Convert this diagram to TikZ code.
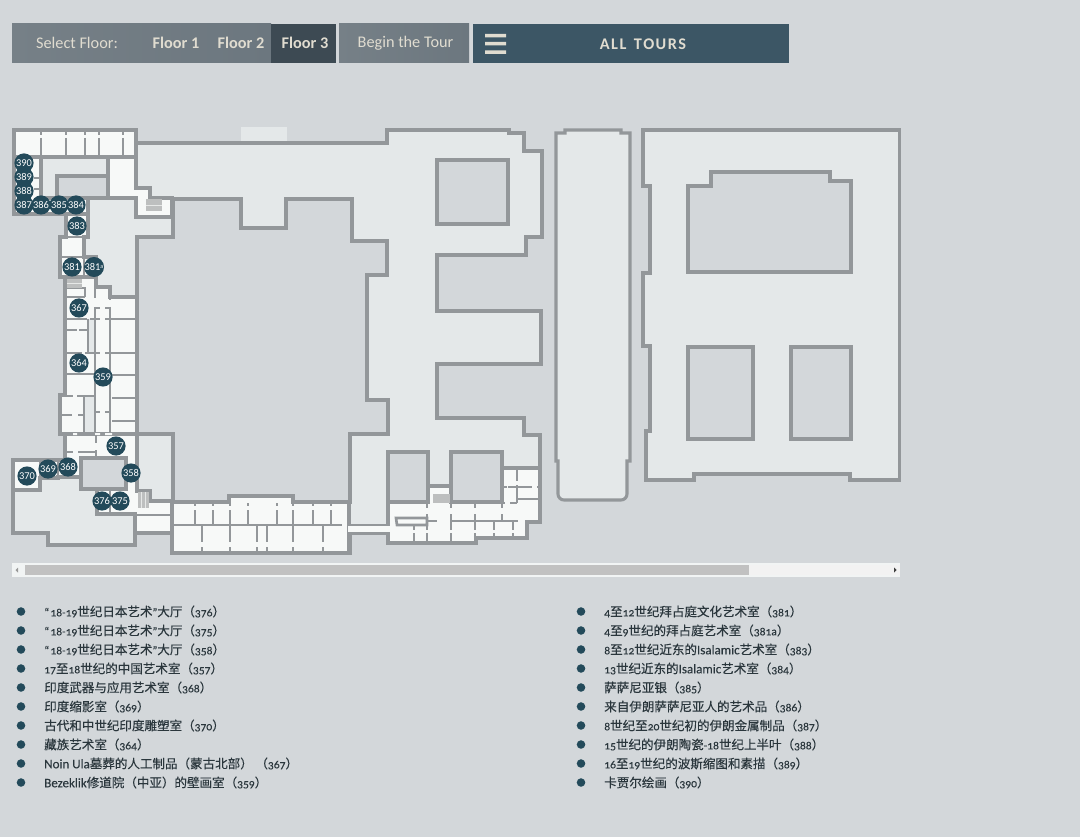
\documentclass[tikz,border=0pt]{standalone}
\usepackage{fontspec}
\setmainfont[FakeBold=0.3]{Noto Sans CJK SC}
\newfontfamily\lat[Numbers=OldStyle,FakeBold=0.15,Scale=0.92]{Carlito}
\newfontfamily\hdr{Carlito}
\definecolor{bgc}{HTML}{D3D7DA}
\definecolor{lightc}{HTML}{E4E8E9}
\definecolor{whitec}{HTML}{F7F9F8}
\definecolor{wallc}{HTML}{93979A}
\definecolor{dotc}{HTML}{234A5A}
\definecolor{barc}{HTML}{6C777F}
\definecolor{barl}{HTML}{768087}
\definecolor{darkc}{HTML}{3D4A53}
\definecolor{tealc}{HTML}{3C5665}
\definecolor{txtc}{HTML}{E0DCD0}
\definecolor{stairc}{HTML}{BDBFBF}
\definecolor{listc}{HTML}{2A363C}
\newcommand{\nm}[1]{{\lat #1}}
\newcommand{\nw}[1]{{\lat\fontsize{10.6}{11}\selectfont #1}}
\tikzset{
  wall/.style={draw=wallc,line width=2.8pt,line join=miter},
  lightroom/.style={wall,fill=lightc},
  hole/.style={wall,fill=bgc},
  whiteroom/.style={wall,fill=whitec,line width=2.4pt},
  iw/.style={draw=wallc,line width=2pt},
  stairline/.style={draw=whitec!70!stairc,line width=.7pt},
  room/.style={circle,fill=dotc,text=white,inner sep=0pt,minimum size=14.4pt,font=\hdr\fontsize{7.8}{8}\selectfont},
  bullet/.style={circle,fill=dotc,inner sep=0pt,minimum size=6.4pt},
  lab/.style={anchor=west,inner sep=0pt,text=listc,font=\fontsize{9.4}{11}\selectfont},
  barbtn/.style={text=txtc,inner sep=0pt,font=\hdr\fontsize{12.2}{14}\selectfont},
  barbold/.style={text=txtc,inner sep=0pt,font=\hdr\bfseries\fontsize{12.2}{14}\selectfont},
}
\begin{document}
\begin{tikzpicture}[x=0.75pt,y=-0.75pt]
\useasboundingbox (0,0) rectangle (1080,837);
\fill[bgc] (0,0) rectangle (1080,837);
% top bar
\shade[left color=barl,right color=barc] (12,24) rectangle (271,63);
\fill[darkc] (271,24) rectangle (336,63);
\shade[left color=barl,right color=barc] (339,24) rectangle (469,63);
\fill[tealc] (473,24) rectangle (789,63);
\fill[txtc] (485,34) rectangle (506,37.5) (485,42) rectangle (506,45.5) (485,50.5) rectangle (506,54);
\node[barbtn] (sel) at (77,43) {Select Floor:};
\node[barbold] (f1) at (176,43) {Floor 1};
\node[barbold] (f2) at (241,43) {Floor 2};
\node[barbold] (f3) at (305,43) {Floor 3};
\node[barbtn] (beg) at (405.5,43) {Begin the Tour};
\node[barbold] (all) at (643,44.5) {A\kern1.1pt L\kern1.1pt L\hspace{5.5pt}T\kern1.1pt O\kern1.1pt U\kern1.1pt R\kern1.1pt S};
% pale patch on the roof line
\fill[lightc] (241,127) rectangle (287,141.5);
% main left building
\draw[lightroom] (14,130)--(136,130)--(136,143)--(387,143)--(387,130)--(509,130)--(509,133)--(524,133)--(524,151)--(542,151)--(542,237)--(526,237)--(526,255)--(437,255)--(437,311)--(541,311)--(541,364)--(437,364)--(437,418)--(524,418)--(524,435)--(540,435)--(540,522)--(527,522)--(527,538)--(476,538)--(476,543)--(388,543)--(388,533)--(350,533)--(350,553)--(172,553)--(172,533)--(135,533)--(135,545)--(48,545)--(48,533)--(13,533)--(13,460)--(65,460)--(65,434)--(60,434)--(60,395)--(65,395)--(65,277)--(60,277)--(60,237)--(66,237)--(66,214)--(14,214)--cycle;
% courtyard and light wells
\draw[hole] (173,199)--(241,199)--(241,228)--(286,228)--(286,199)--(352,199)--(352,241)--(387,241)--(387,275)--(367,275)--(367,400)--(388,400)--(388,434)--(350,434)--(350,502)--(293,502)--(293,496)--(229,496)--(229,502)--(173,502)--(173,434)--(137,434)--(137,237)--(173,237)--cycle;
\draw[hole] (437,160) rectangle (508,224);
\draw[hole] (57,176) rectangle (108,198);
% white rooms: wing
\draw[whiteroom] (14,130) rectangle (136,157);
\draw[whiteroom] (14,157)--(41,157)--(41,198)--(88,198)--(88,214)--(14,214)--cycle;
\draw[whiteroom] (108,157)--(136,157)--(136,188)--(150,188)--(150,198)--(172,198)--(172,217)--(136,217)--(136,198)--(108,198)--cycle;
\draw[whiteroom] (66,214)--(88,214)--(88,237)--(84,237)--(84,257)--(96,257)--(96,277)--(60,277)--(60,237)--(66,237)--cycle;
\draw[iw] (60,257)--(84,257)--(84,277);
\draw[iw] (60,237)--(84,237);
% white rooms: long gallery column
\draw[whiteroom] (65,277)--(96,277)--(96,287)--(110,287)--(110,297)--(137,297)--(137,434)--(65,434)--(60,434)--(60,395)--(65,395)--cycle;
\fill[lightc] (88,319) rectangle (95,353);
\fill[lightc] (85,397) rectangle (95,434);
% bottom left rooms
\draw[whiteroom] (65,434)--(137,434)--(137,491)--(150,491)--(150,501)--(172,501)--(172,533)--(135,533)--(135,514)--(97,514)--(97,489)--(126,489)--(126,458)--(81,458)--(81,477)--(58,477)--(58,478)--(40,478)--(40,490)--(13,490)--(13,460)--(65,460)--cycle;
\draw[hole] (81,458) rectangle (126,489);
% bottom gallery
\draw[whiteroom] (172,502)--(229,502)--(229,496)--(293,496)--(293,502)--(349,502)--(349,553)--(172,553)--cycle;
\fill[whitec] (348,526) rectangle (389,532);
\draw[iw] (351,525)--(388,525) (350,533)--(388,533);
% annex
\draw[whiteroom] (428,502)--(428,486)--(451,486)--(451,502)--(502,502)--(502,468)--(540,468)--(540,522)--(527,522)--(527,538)--(476,538)--(476,543)--(388,543)--(388,502)--cycle;
\fill[whitec] (386,526) rectangle (390,532);
\draw[hole] (388,452) rectangle (428,502);
\draw[hole] (451,452) rectangle (502,502);
% inner walls: top wing
\draw[iw] (41,130)--(41,135) (41,138)--(41,157) (66,130)--(66,135) (66,138)--(66,157) (85,130)--(85,135) (85,138)--(85,157) (99,130)--(99,135) (99,138)--(99,157) (123,130)--(123,135) (123,138)--(123,157);
\draw[iw] (41,157)--(41,176) (34,178)--(40,178) (34,189)--(40,189);
% inner walls: long column
\draw[iw] (65,288)--(85,288)--(85,297) (67,297)--(85,297);
\draw[iw] (95,288)--(95,298) (95,307)--(95,434) (110,297)--(110,300) (110,307)--(110,434);
\draw[iw] (95,308)--(100,308) (105,308)--(110,308);
\draw[iw] (65,319)--(87,319) (90,319)--(100,319) (105,319)--(137,319);
\draw[iw] (65,330)--(77,330) (79,330)--(88,330) (88,319)--(88,353);
\draw[iw] (65,353)--(82,353) (85,353)--(100,353) (105,353)--(137,353);
\draw[iw] (65,374)--(95,374) (112,375)--(137,375);
\draw[iw] (60,396)--(73,396) (77,396)--(95,396) (112,398)--(137,398);
\draw[iw] (95,412)--(100,412) (105,412)--(110,412);
\draw[iw] (60,415)--(72,415) (78,415)--(84,415) (84,396)--(84,434);
\draw[iw] (112,421)--(137,421);
\fill[whitec] (73,433) rectangle (77,435) (95,433) rectangle (100,435) (105,433) rectangle (112,435);
% inner walls: 357 block
\draw[iw] (96,435)--(96,443) (96,450)--(96,458) (65,452)--(73,452) (78,452)--(95,452);
\draw[iw] (58,460)--(58,477) (40,460)--(40,490);
\draw[iw] (110,489)--(110,514) (127,458)--(127,489);
\draw[iw] (150,501)--(170,501) (137,515)--(172,515);
\draw[iw] (135,514)--(135,533);
% inner walls: bottom gallery
\draw[iw] (172,525)--(342,525);
\foreach \wx in {195,213,230,248,277,293,313,331} {\draw[iw] (\wx,503)--(\wx,506) (\wx,510)--(\wx,525);}
\foreach \wx in {202,230,257,267,293,323} {\draw[iw] (\wx,525)--(\wx,542) (\wx,547)--(\wx,553);}
\draw[iw] (172,503)--(172,513) (172,523)--(172,533);
% inner walls: annex
\draw[iw] (428,521)--(437,521) (450,521)--(518,521);
\draw[iw] (396,518)--(427,518)--(427,525)--(397,525)--cycle;
\draw[iw] (502,487)--(507,487) (508,487)--(532,487) (537,487)--(540,487);
\draw[iw] (517,499)--(540,499) (502,503)--(505,503) (510,503)--(517,503);
\draw[iw] (517,468)--(517,481) (517,485)--(517,503);
\foreach \wx in {427,451,475} {\draw[iw] (\wx,503)--(\wx,508) (\wx,514)--(\wx,530) (\wx,533)--(\wx,543);}
\draw[iw] (502,503)--(502,508) (502,514)--(502,520);
\draw[iw] (414,525)--(414,530) (414,533)--(414,542) (494,522)--(494,530) (494,533)--(494,538) (513,522)--(513,530) (513,533)--(513,538);
% stairs
\fill[stairc] (67,279) rectangle (82,288); \draw[stairline] (67,283.5)--(82,283.5);
\fill[stairc] (146,199) rectangle (162,211); \draw[stairline] (146,205)--(162,205);
\fill[stairc] (138,492) rectangle (149,508); \draw[stairline] (141.5,492)--(141.5,508) (145,492)--(145,508);
\fill[stairc] (433,494) rectangle (450,503);
% long building
\draw[lightroom,line width=2.3pt] (556,133)--(565,133)--(565,130)--(621,130)--(621,133)--(630,133)--(630,461)--(627,461)--(627,494) arc[start angle=0,end angle=90,radius=6]--(564,500) arc[start angle=90,end angle=180,radius=6]--(558,461)--(556,461)--cycle;
% right building
\draw[lightroom,line width=2.3pt] (643,130)--(900,130)--(900,480)--(850,480)--(850,474)--(694,474)--(694,480)--(646,480)--(646,431)--(650,431)--(650,346)--(643,346)--(643,273)--(650,273)--(650,186)--(643,186)--cycle;
\fill[bgc] (900.5,127) rectangle (904,483);
\draw[hole,line width=2.3pt] (688,186)--(711,186)--(711,172)--(830,172)--(830,181)--(851,181)--(851,272)--(688,272)--cycle;
\draw[hole,line width=2.3pt] (688,347) rectangle (753,439);
\draw[hole,line width=2.3pt] (791,347) rectangle (851,439);
% scroll bar
\fill[lightc!50!white] (12,563) rectangle (900,577);
\fill[black!5] (25,565) rectangle (900,575);
\fill[black!24.5] (25,565) rectangle (749,575);
\fill[black!40] (15.5,570)--(18,567.5)--(18,572.5)--cycle;
\fill[black!75] (896.5,570)--(894,567.5)--(894,572.5)--cycle;
% room markers
\node[room] (r390) at (24,163) {390};
\node[room] (r389) at (24,177) {389};
\node[room] (r388) at (24,191) {388};
\node[room] (r387) at (24,205) {387};
\node[room] (r386) at (41,205) {386};
\node[room] (r385) at (59,205) {385};
\node[room] (r384) at (76,205) {384};
\node[room] (r383) at (77,226) {383};
\node[room] (r381) at (72,267) {381};
\node[room] (r381a) at (94,267) {381\raisebox{1.6pt}{\fontsize{4.5}{5}\selectfont a}};
\node[room] (r367) at (79,308) {367};
\node[room] (r364) at (79,363) {364};
\node[room] (r359) at (103,377) {359};
\node[room] (r357) at (116,446) {357};
\node[room] (r358) at (131,473) {358};
\node[room] (r368) at (68,467) {368};
\node[room] (r369) at (48,469) {369};
\node[room] (r370) at (27,476) {370};
\node[room] (r376) at (102,501) {376};
\node[room] (r375) at (120,501) {375};
% legend, left column
\node[bullet] (a1) at (21,611.5) {};
\node[bullet] (a2) at (21,630.5) {};
\node[bullet] (a3) at (21,649.5) {};
\node[bullet] (a4) at (21,668.5) {};
\node[bullet] (a5) at (21,687.5) {};
\node[bullet] (a6) at (21,706.5) {};
\node[bullet] (a7) at (21,725.5) {};
\node[bullet] (a8) at (21,744.5) {};
\node[bullet] (a9) at (21,763.5) {};
\node[bullet] (a10) at (21,782.5) {};
\node[lab] (ta1) at (44,611.5) {\nm{“\kern1pt18-19}世纪日本艺术\nm{”}大厅（\nm{376}）};
\node[lab] (ta2) at (44,630.5) {\nm{“\kern1pt18-19}世纪日本艺术\nm{”}大厅（\nm{375}）};
\node[lab] (ta3) at (44,649.5) {\nm{“\kern1pt18-19}世纪日本艺术\nm{”}大厅（\nm{358}）};
\node[lab] (ta4) at (44,668.5) {\nm{17}至\nm{18}世纪的中国艺术室（\nm{357}）};
\node[lab] (ta5) at (44,687.5) {印度武器与应用艺术室（\nm{368}）};
\node[lab] (ta6) at (44,706.5) {印度缩影室（\nm{369}）};
\node[lab] (ta7) at (44,725.5) {古代和中世纪印度雕塑室（\nm{370}）};
\node[lab] (ta8) at (44,744.5) {藏族艺术室（\nm{364}）};
\node[lab] (ta9) at (44,763.5) {\nw{Noin Ula}墓葬的人工制品（蒙古北部）\kern2pt（\nm{367}）};
\node[lab] (ta10) at (44,782.5) {\nw{Bezeklik}修道院（中亚）的壁画室（\nm{359}）};
% legend, right column
\node[bullet] (b1) at (581,611.5) {};
\node[bullet] (b2) at (581,630.5) {};
\node[bullet] (b3) at (581,649.5) {};
\node[bullet] (b4) at (581,668.5) {};
\node[bullet] (b5) at (581,687.5) {};
\node[bullet] (b6) at (581,706.5) {};
\node[bullet] (b7) at (581,725.5) {};
\node[bullet] (b8) at (581,744.5) {};
\node[bullet] (b9) at (581,763.5) {};
\node[bullet] (b10) at (581,782.5) {};
\node[lab] (tb1) at (604,611.5) {\nm{4}至\nm{12}世纪拜占庭文化艺术室（\nm{381}）};
\node[lab] (tb2) at (604,630.5) {\nm{4}至\nm{9}世纪的拜占庭艺术室（\nm{381a}）};
\node[lab] (tb3) at (604,649.5) {\nm{8}至\nm{12}世纪近东的\nw{Isalamic}艺术室（\nm{383}）};
\node[lab] (tb4) at (604,668.5) {\nm{13}世纪近东的\nw{Isalamic}艺术室（\nm{384}）};
\node[lab] (tb5) at (604,687.5) {萨萨尼亚银（\nm{385}）};
\node[lab] (tb6) at (604,706.5) {来自伊朗萨萨尼亚人的艺术品（\nm{386}）};
\node[lab] (tb7) at (604,725.5) {\nm{8}世纪至\nm{20}世纪初的伊朗金属制品（\nm{387}）};
\node[lab] (tb8) at (604,744.5) {\nm{15}世纪的伊朗陶瓷\nm{-18}世纪上半叶（\nm{388}）};
\node[lab] (tb9) at (604,763.5) {\nm{16}至\nm{19}世纪的波斯缩图和素描（\nm{389}）};
\node[lab] (tb10) at (604,782.5) {卡贾尔绘画（\nm{390}）};
\end{tikzpicture}
\end{document}
